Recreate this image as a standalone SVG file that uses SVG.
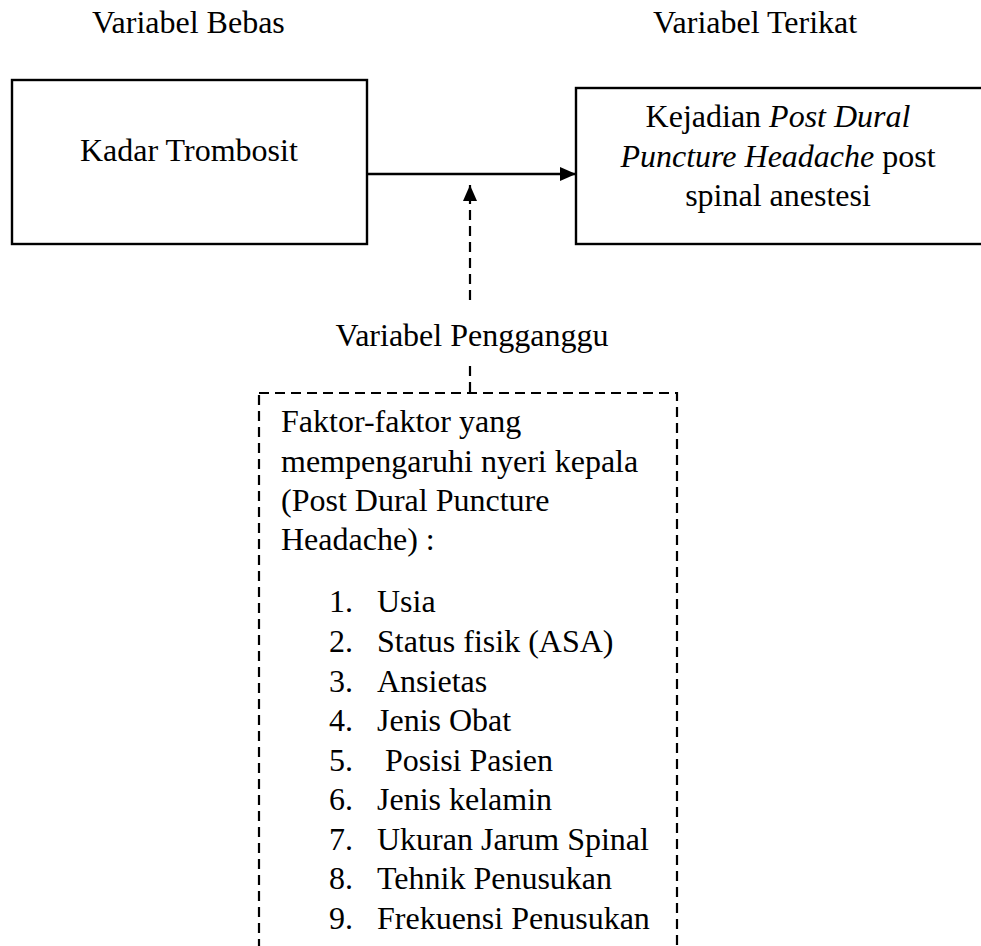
<svg xmlns="http://www.w3.org/2000/svg" width="981" height="946" viewBox="0 0 981 946">
<style>
text{font-size:32px;fill:#000}
.box{fill:#fff;stroke:#000;stroke-width:2.4}
.dbox{fill:none;stroke:#000;stroke-width:2.2;stroke-dasharray:10 6}
.ln{stroke:#000;stroke-width:2.4;fill:none}
.dl{stroke:#000;stroke-width:2.2;fill:none;stroke-dasharray:10 6}
.c{text-anchor:middle}
</style>
<defs>
<marker id="ah" viewBox="0 0 16 14" refX="16" refY="7" markerWidth="16" markerHeight="14" markerUnits="userSpaceOnUse" orient="auto">
<path d="M0,0 L16,7 L0,14 Z" fill="#000"/>
</marker>
</defs>
<rect width="981" height="946" fill="#fff"/>
<g font-family="Liberation Serif, Times New Roman, DejaVu Serif, serif">
<g id="label-bebas"><text x="92" y="33">Variabel Bebas</text></g>
<g id="label-terikat"><text x="653" y="33">Variabel Terikat</text></g>
<g id="node-kadar">
<rect class="box" x="12" y="80" width="355" height="164"/>
<text x="80" y="161">Kadar Trombosit</text>
</g>
<g id="node-pdph">
<rect class="box" x="576" y="88" width="420" height="156"/>
<text class="c" x="778" y="127">Kejadian <tspan font-style="italic">Post Dural</tspan></text>
<text class="c" x="778" y="167"><tspan font-style="italic">Puncture Headache</tspan> post</text>
<text class="c" x="778" y="206">spinal anestesi</text>
</g>
<g id="label-pengganggu"><text class="c" x="472" y="346">Variabel Pengganggu</text></g>
<g id="node-faktor">
<rect class="dbox" x="259" y="393" width="418" height="580"/>
<text x="281" y="432">Faktor-faktor yang</text>
<text x="281" y="472">mempengaruhi nyeri kepala</text>
<text x="281" y="511">(Post Dural Puncture</text>
<text x="281" y="550">Headache) :</text>
<text y="612"><tspan x="329">1.</tspan><tspan x="377">Usia</tspan></text>
<text y="652"><tspan x="329">2.</tspan><tspan x="377">Status fisik (ASA)</tspan></text>
<text y="692"><tspan x="329">3.</tspan><tspan x="377">Ansietas</tspan></text>
<text y="731"><tspan x="329">4.</tspan><tspan x="377">Jenis Obat</tspan></text>
<text y="771"><tspan x="329">5.</tspan><tspan x="385">Posisi Pasien</tspan></text>
<text y="810"><tspan x="329">6.</tspan><tspan x="377">Jenis kelamin</tspan></text>
<text y="850"><tspan x="329">7.</tspan><tspan x="377">Ukuran Jarum Spinal</tspan></text>
<text y="889"><tspan x="329">8.</tspan><tspan x="377">Tehnik Penusukan</tspan></text>
<text y="929"><tspan x="329">9.</tspan><tspan x="377">Frekuensi Penusukan</tspan></text>
</g>
</g>
<g id="connectors">
<line class="ln" x1="367" y1="174" x2="576" y2="174" marker-end="url(#ah)"/>
<line class="dl" x1="470" y1="300" x2="470" y2="185" marker-end="url(#ah)"/>
<line class="dl" x1="470" y1="366" x2="470" y2="393"/>
</g>
</svg>
